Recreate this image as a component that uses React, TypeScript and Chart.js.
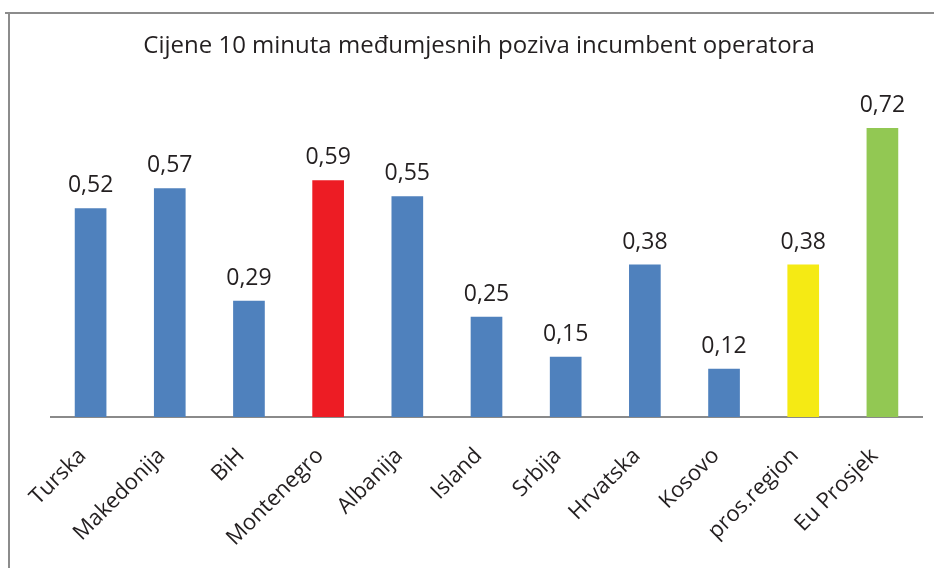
import React, { useEffect, useRef } from "react";
import { Chart, registerables } from "chart.js";

Chart.register(...registerables);

const categories = ["Turska", "Makedonija", "BiH", "Montenegro", "Albanija", "Island", "Srbija", "Hrvatska", "Kosovo", "pros.region", "Eu Prosjek"];
const values = [0.52, 0.57, 0.29, 0.59, 0.55, 0.25, 0.15, 0.38, 0.12, 0.38, 0.72];
const barColors = ["#4F81BD", "#4F81BD", "#4F81BD", "#ED1C24", "#4F81BD", "#4F81BD", "#4F81BD", "#4F81BD", "#4F81BD", "#F5EA14", "#92C853"];
const titleText = "Cijene 10 minuta međumjesnih poziva incumbent operatora";

const FONT = "'Open Sans', 'Noto Sans', sans-serif";

const framePlugin = {
  id: "frame",
  beforeDraw(chart: any) {
    const ctx = chart.ctx;
    ctx.save();
    ctx.fillStyle = "#ffffff";
    ctx.fillRect(0, 0, chart.width, chart.height);
    ctx.strokeStyle = "#8c8c8c";
    ctx.lineWidth = 2;
    ctx.beginPath();
    ctx.moveTo(5, 13);
    ctx.lineTo(chart.width, 13);
    ctx.moveTo(9, 12);
    ctx.lineTo(9, chart.height);
    ctx.stroke();
    ctx.font = `24px ${FONT}`;
    ctx.fillStyle = "#231F20";
    ctx.textAlign = "center";
    ctx.textBaseline = "middle";
    ctx.fillText(titleText, 479, 46);
    ctx.restore();
  },
};

const labelPlugin = {
  id: "valueLabels",
  afterDatasetsDraw(chart: any) {
    const ctx = chart.ctx;
    const meta = chart.getDatasetMeta(0);
    ctx.save();
    ctx.font = `23px ${FONT}`;
    ctx.fillStyle = "#231F20";
    ctx.textAlign = "center";
    ctx.textBaseline = "alphabetic";
    meta.data.forEach((bar: any, i: number) => {
      const v = values[i].toFixed(2).replace(".", ",");
      ctx.fillText(v, bar.x, bar.y - 16);
    });
    ctx.restore();
  },
};

export default function App() {
  const ref = useRef<HTMLCanvasElement | null>(null);
  useEffect(() => {
    document.body.style.margin = "0";
    const chart = new Chart(ref.current as HTMLCanvasElement, {
      type: "bar",
      data: {
        labels: categories,
        datasets: [
          {
            data: values,
            backgroundColor: barColors,
            barPercentage: 0.4,
            categoryPercentage: 1,
          },
        ],
      },
      options: {
        animation: false,
        responsive: false,
        maintainAspectRatio: false,
        layout: { padding: { left: 51, right: 12, top: 96, bottom: 0 } },
        plugins: {
          legend: { display: false },
          tooltip: { enabled: false },
          title: { display: false },
        },
        scales: {
          x: {
            grid: { display: false, drawTicks: false },
            border: { display: true, color: "#8a8a8a", width: 2 },
            ticks: {
              color: "#231F20",
              font: { family: FONT, size: 22 },
              maxRotation: 45,
              minRotation: 45,
              padding: 26,
              labelOffset: -8,
              autoSkip: false,
            },
            afterFit(scale: any) {
              scale.height = 151;
            },
          },
          y: {
            display: false,
            min: 0,
            max: 0.8,
          },
        },
      },
      plugins: [framePlugin, labelPlugin],
    });
    return () => chart.destroy();
  }, []);
  return <canvas ref={ref} width={934} height={568} style={{ display: "block" }} />;
}
